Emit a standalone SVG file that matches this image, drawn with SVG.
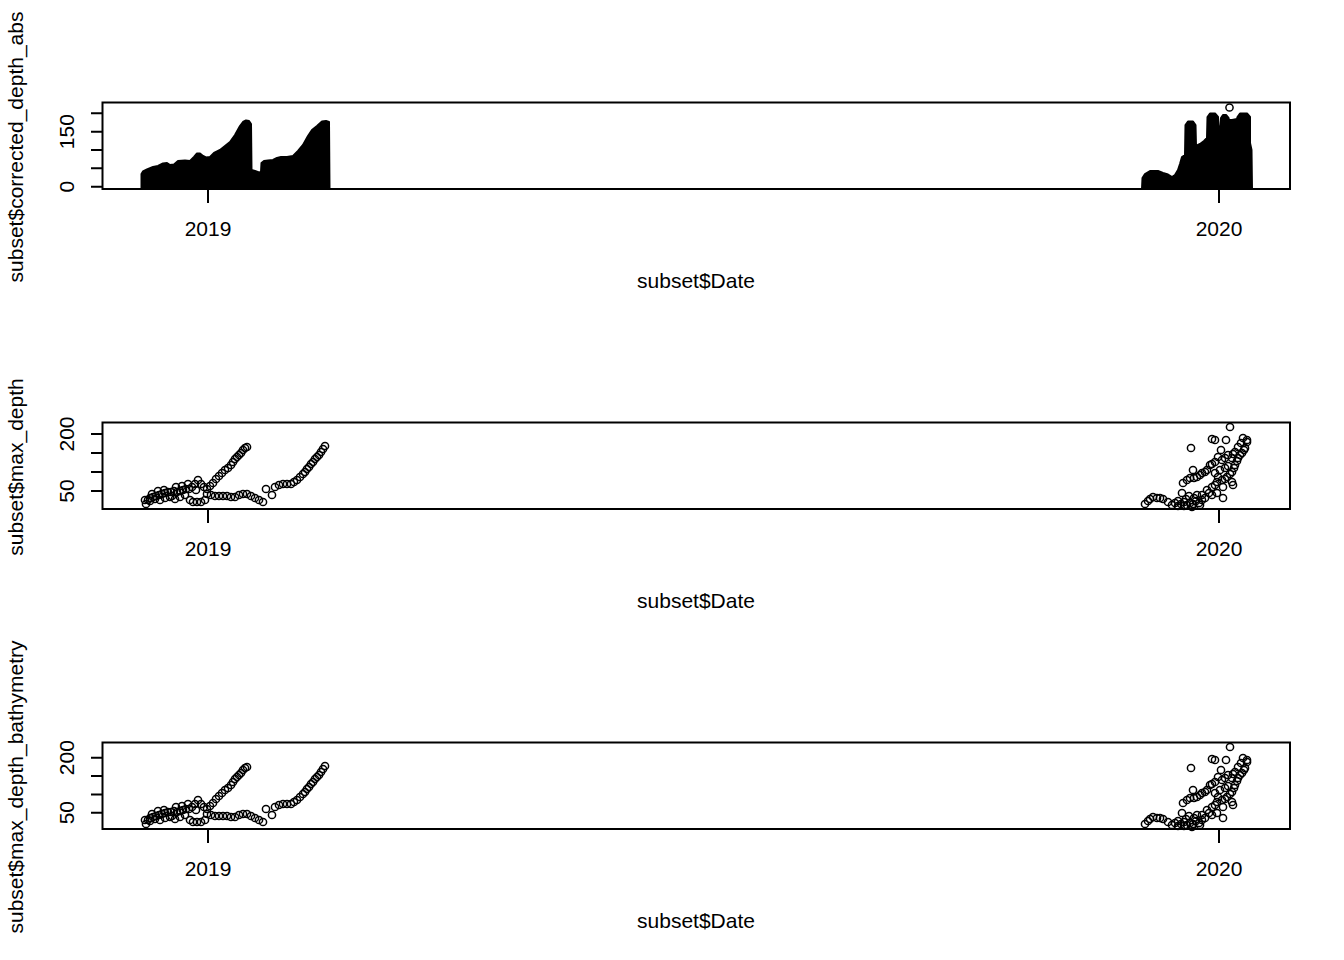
<svg xmlns="http://www.w3.org/2000/svg" xmlns:xlink="http://www.w3.org/1999/xlink" width="1344" height="960" viewBox="0 0 1344 960">
<style>
text{font-family:"Liberation Sans",Arial,sans-serif;font-size:21px;fill:#000}
.box{fill:none;stroke:#000;stroke-width:2}
.tk{stroke:#000;stroke-width:2;fill:none}
.pts circle{fill:none;stroke:#000;stroke-width:1.5}
.blob{fill:#000;stroke:#000;stroke-width:2;stroke-linejoin:round}
</style>
<defs>
<g id="pts" class="pts">
<circle cx="146" cy="504" r="3.6"/><circle cx="148" cy="500" r="3.6"/><circle cx="150" cy="498" r="3.6"/><circle cx="153" cy="497" r="3.6"/><circle cx="156" cy="496" r="3.6"/><circle cx="159" cy="495" r="3.6"/><circle cx="162" cy="494" r="3.6"/><circle cx="165" cy="493" r="3.6"/><circle cx="168" cy="492" r="3.6"/><circle cx="171" cy="492" r="3.6"/><circle cx="174" cy="491" r="3.6"/><circle cx="177" cy="492" r="3.6"/><circle cx="180" cy="491" r="3.6"/><circle cx="183" cy="490" r="3.6"/><circle cx="186" cy="489" r="3.6"/><circle cx="189" cy="489" r="3.6"/><circle cx="192" cy="487" r="3.6"/><circle cx="195" cy="484" r="3.6"/><circle cx="198" cy="480" r="3.6"/><circle cx="201" cy="484" r="3.6"/><circle cx="204" cy="487" r="3.6"/><circle cx="207" cy="489" r="3.6"/><circle cx="210" cy="486" r="3.6"/><circle cx="213" cy="483" r="3.6"/><circle cx="216" cy="479" r="3.6"/><circle cx="219" cy="476" r="3.6"/><circle cx="222" cy="473" r="3.6"/><circle cx="225" cy="470" r="3.6"/><circle cx="228" cy="468" r="3.6"/><circle cx="231" cy="465" r="3.6"/><circle cx="233" cy="462" r="3.6"/><circle cx="235" cy="459" r="3.6"/><circle cx="237" cy="457" r="3.6"/><circle cx="239" cy="455" r="3.6"/><circle cx="241" cy="453" r="3.6"/><circle cx="243" cy="450" r="3.6"/><circle cx="245" cy="448" r="3.6"/><circle cx="247" cy="447" r="3.6"/>
<circle cx="152" cy="494" r="3.6"/><circle cx="158" cy="491" r="3.6"/><circle cx="164" cy="490" r="3.6"/><circle cx="176" cy="487" r="3.6"/><circle cx="182" cy="486" r="3.6"/><circle cx="188" cy="484" r="3.6"/><circle cx="172" cy="496" r="3.6"/><circle cx="196" cy="490" r="3.6"/>
<circle cx="145" cy="500" r="3.6"/><circle cx="150" cy="501" r="3.6"/><circle cx="155" cy="499" r="3.6"/><circle cx="160" cy="500" r="3.6"/><circle cx="165" cy="498" r="3.6"/><circle cx="170" cy="497" r="3.6"/><circle cx="175" cy="499" r="3.6"/><circle cx="180" cy="497" r="3.6"/><circle cx="185" cy="495" r="3.6"/><circle cx="190" cy="500" r="3.6"/><circle cx="193" cy="502" r="3.6"/><circle cx="197" cy="502" r="3.6"/><circle cx="201" cy="502" r="3.6"/><circle cx="205" cy="500" r="3.6"/><circle cx="207" cy="494" r="3.6"/><circle cx="211" cy="495" r="3.6"/><circle cx="215" cy="496" r="3.6"/><circle cx="219" cy="496" r="3.6"/><circle cx="223" cy="496" r="3.6"/><circle cx="227" cy="496" r="3.6"/><circle cx="231" cy="497" r="3.6"/><circle cx="235" cy="497" r="3.6"/><circle cx="239" cy="495" r="3.6"/><circle cx="243" cy="494" r="3.6"/><circle cx="247" cy="494" r="3.6"/><circle cx="251" cy="496" r="3.6"/><circle cx="255" cy="498" r="3.6"/><circle cx="259" cy="500" r="3.6"/><circle cx="263" cy="502" r="3.6"/>
<circle cx="266" cy="489" r="3.6"/><circle cx="272" cy="495" r="3.6"/><circle cx="275" cy="487" r="3.6"/><circle cx="279" cy="485" r="3.6"/><circle cx="283" cy="484" r="3.6"/><circle cx="287" cy="484" r="3.6"/><circle cx="291" cy="484" r="3.6"/><circle cx="294" cy="482" r="3.6"/><circle cx="297" cy="480" r="3.6"/><circle cx="300" cy="477" r="3.6"/><circle cx="303" cy="474" r="3.6"/><circle cx="305" cy="472" r="3.6"/><circle cx="307" cy="469" r="3.6"/><circle cx="309" cy="467" r="3.6"/><circle cx="311" cy="464" r="3.6"/><circle cx="313" cy="462" r="3.6"/><circle cx="315" cy="459" r="3.6"/><circle cx="317" cy="457" r="3.6"/><circle cx="319" cy="455" r="3.6"/><circle cx="321" cy="452" r="3.6"/><circle cx="323" cy="449" r="3.6"/><circle cx="325" cy="446" r="3.6"/>
<circle cx="1145" cy="504" r="3.6"/><circle cx="1148" cy="501" r="3.6"/><circle cx="1150" cy="499" r="3.6"/><circle cx="1153" cy="497" r="3.6"/><circle cx="1157" cy="498" r="3.6"/><circle cx="1160" cy="498" r="3.6"/><circle cx="1163" cy="499" r="3.6"/><circle cx="1168" cy="502" r="3.6"/><circle cx="1172" cy="505" r="3.6"/><circle cx="1175" cy="503" r="3.6"/><circle cx="1178" cy="501" r="3.6"/><circle cx="1181" cy="504" r="3.6"/><circle cx="1184" cy="502" r="3.6"/><circle cx="1187" cy="505" r="3.6"/><circle cx="1190" cy="503" r="3.6"/><circle cx="1193" cy="504" r="3.6"/><circle cx="1196" cy="501" r="3.6"/><circle cx="1199" cy="503" r="3.6"/><circle cx="1202" cy="500" r="3.6"/><circle cx="1205" cy="498" r="3.6"/><circle cx="1178" cy="506" r="3.6"/><circle cx="1186" cy="499" r="3.6"/><circle cx="1194" cy="498" r="3.6"/><circle cx="1200" cy="505" r="3.6"/><circle cx="1182" cy="493" r="3.6"/><circle cx="1189" cy="496" r="3.6"/><circle cx="1197" cy="495" r="3.6"/><circle cx="1184" cy="506" r="3.6"/><circle cx="1192" cy="507" r="3.6"/>
<circle cx="1202" cy="495" r="3.6"/><circle cx="1207" cy="490" r="3.6"/><circle cx="1209" cy="493" r="3.6"/><circle cx="1212" cy="487" r="3.6"/><circle cx="1215" cy="485" r="3.6"/><circle cx="1217" cy="482" r="3.6"/><circle cx="1222" cy="480" r="3.6"/><circle cx="1223" cy="487" r="3.6"/><circle cx="1225" cy="479" r="3.6"/><circle cx="1227" cy="477" r="3.6"/><circle cx="1230" cy="474" r="3.6"/><circle cx="1232" cy="472" r="3.6"/><circle cx="1234" cy="468" r="3.6"/><circle cx="1235" cy="465" r="3.6"/><circle cx="1237" cy="461" r="3.6"/><circle cx="1238" cy="458" r="3.6"/><circle cx="1240" cy="455" r="3.6"/><circle cx="1242" cy="453" r="3.6"/><circle cx="1244" cy="450" r="3.6"/><circle cx="1245" cy="448" r="3.6"/><circle cx="1247" cy="442" r="3.6"/><circle cx="1243" cy="438" r="3.6"/>
<circle cx="1183" cy="483" r="3.6"/><circle cx="1187" cy="480" r="3.6"/><circle cx="1190" cy="478" r="3.6"/><circle cx="1193" cy="470" r="3.6"/><circle cx="1194" cy="478" r="3.6"/><circle cx="1197" cy="477" r="3.6"/><circle cx="1200" cy="475" r="3.6"/><circle cx="1202" cy="473" r="3.6"/><circle cx="1205" cy="472" r="3.6"/><circle cx="1207" cy="470" r="3.6"/><circle cx="1210" cy="465" r="3.6"/><circle cx="1212" cy="464" r="3.6"/><circle cx="1215" cy="462" r="3.6"/><circle cx="1218" cy="457" r="3.6"/><circle cx="1221" cy="450" r="3.6"/><circle cx="1222" cy="460" r="3.6"/><circle cx="1225" cy="458" r="3.6"/><circle cx="1228" cy="455" r="3.6"/><circle cx="1232" cy="458" r="3.6"/><circle cx="1233" cy="454" r="3.6"/><circle cx="1235" cy="452" r="3.6"/><circle cx="1238" cy="447" r="3.6"/><circle cx="1241" cy="443" r="3.6"/><circle cx="1247" cy="440" r="3.6"/>
<circle cx="1215" cy="473" r="3.6"/><circle cx="1220" cy="470" r="3.6"/><circle cx="1225" cy="468" r="3.6"/><circle cx="1228" cy="466" r="3.6"/><circle cx="1232" cy="482" r="3.6"/><circle cx="1233" cy="485" r="3.6"/><circle cx="1223" cy="498" r="3.6"/><circle cx="1217" cy="493" r="3.6"/><circle cx="1212" cy="495" r="3.6"/><circle cx="1218" cy="477" r="3.6"/>
<circle cx="1191" cy="448" r="3.6"/><circle cx="1212" cy="439" r="3.6"/><circle cx="1215" cy="440" r="3.6"/><circle cx="1226" cy="440" r="3.6"/><circle cx="1230" cy="427" r="3.6"/>
</g>
</defs>

<g id="panel1">
<rect class="box" x="102.5" y="102.5" width="1187.5" height="86.5"/>
<path class="blob" d="M141.5,189 L141.5,174 L143,171.5 L147,169.5 L153,167 L158,166 L163,163.5 L167,163 L170,165 L174,164.5 L178,161 L185,160.5 L190,161 L194,157 L197,153.5 L200,153.5 L203,156 L206,157.5 L210,157 L214,153 L220,150 L225,146 L230,142 L235,135 L240,126 L243,122 L246,120.5 L249,121 L251,124 L251.5,170 L255,171 L259,172.5 L261,172 L261.5,163 L264,161 L268,160.5 L273,160 L277,158 L281,157 L287,157 L293,156 L298,151 L303,145 L308,136 L312,130 L317,126 L322,121.5 L326,121 L329,122 L329.5,189 Z"/>
<path class="blob" d="M1142,189 L1142.5,178 L1145,174 L1150,171 L1158,171 L1163,173 L1168,174.5 L1172,177 L1175,175 L1178,170 L1180,164 L1182,157 L1185,155 L1185.5,125 L1188,121.5 L1193,121.5 L1195.5,125 L1196,146 L1200,144 L1204,141 L1207,138 L1207.5,117 L1210,113.5 L1215,113.5 L1218,117 L1218.5,127 L1220.5,126 L1221,118 L1223,115 L1226,115 L1228.5,118 L1229,120 L1232,120 L1237,119 L1237.5,117 L1240,113.5 L1247,113.5 L1250,117 L1250,143 L1251.5,150 L1252,189 Z"/>
<circle cx="1229.5" cy="107.5" r="3.6" fill="none" stroke="#000" stroke-width="1.5"/>
<path class="tk" d="M102.5,113.3H91M102.5,131.7H91M102.5,150H91M102.5,168.3H91M102.5,186.7H91M208,189V203M1219,189V203"/>
<text transform="translate(74,131.7) rotate(-90)" text-anchor="middle">150</text>
<text transform="translate(74,186.7) rotate(-90)" text-anchor="middle">0</text>
<text x="208" y="236" text-anchor="middle">2019</text>
<text x="1219" y="236" text-anchor="middle">2020</text>
<text x="696" y="288" text-anchor="middle">subset$Date</text>
<text transform="translate(23,147) rotate(-90)" text-anchor="middle">subset$corrected_depth_abs</text>
</g>

<g id="panel2">
<rect class="box" x="102.5" y="422.5" width="1187.5" height="86.5"/>
<use xlink:href="#pts" href="#pts"/>
<path class="tk" d="M102.5,434H91M102.5,453H91M102.5,472H91M102.5,491H91M208,509V523M1219,509V523"/>
<text transform="translate(74,434) rotate(-90)" text-anchor="middle">200</text>
<text transform="translate(74,491) rotate(-90)" text-anchor="middle">50</text>
<text x="208" y="556" text-anchor="middle">2019</text>
<text x="1219" y="556" text-anchor="middle">2020</text>
<text x="696" y="608" text-anchor="middle">subset$Date</text>
<text transform="translate(23,467) rotate(-90)" text-anchor="middle">subset$max_depth</text>
</g>

<g id="panel3">
<rect class="box" x="102.5" y="742.5" width="1187.5" height="86.5"/>
<use xlink:href="#pts" href="#pts" transform="translate(0,320)"/>
<path class="tk" d="M102.5,757.7H91M102.5,776H91M102.5,794.5H91M102.5,812.7H91M208,829V843M1219,829V843"/>
<text transform="translate(74,757.7) rotate(-90)" text-anchor="middle">200</text>
<text transform="translate(74,812.7) rotate(-90)" text-anchor="middle">50</text>
<text x="208" y="876" text-anchor="middle">2019</text>
<text x="1219" y="876" text-anchor="middle">2020</text>
<text x="696" y="928" text-anchor="middle">subset$Date</text>
<text transform="translate(23,787) rotate(-90)" text-anchor="middle">subset$max_depth_bathymetry</text>
</g>
</svg>
